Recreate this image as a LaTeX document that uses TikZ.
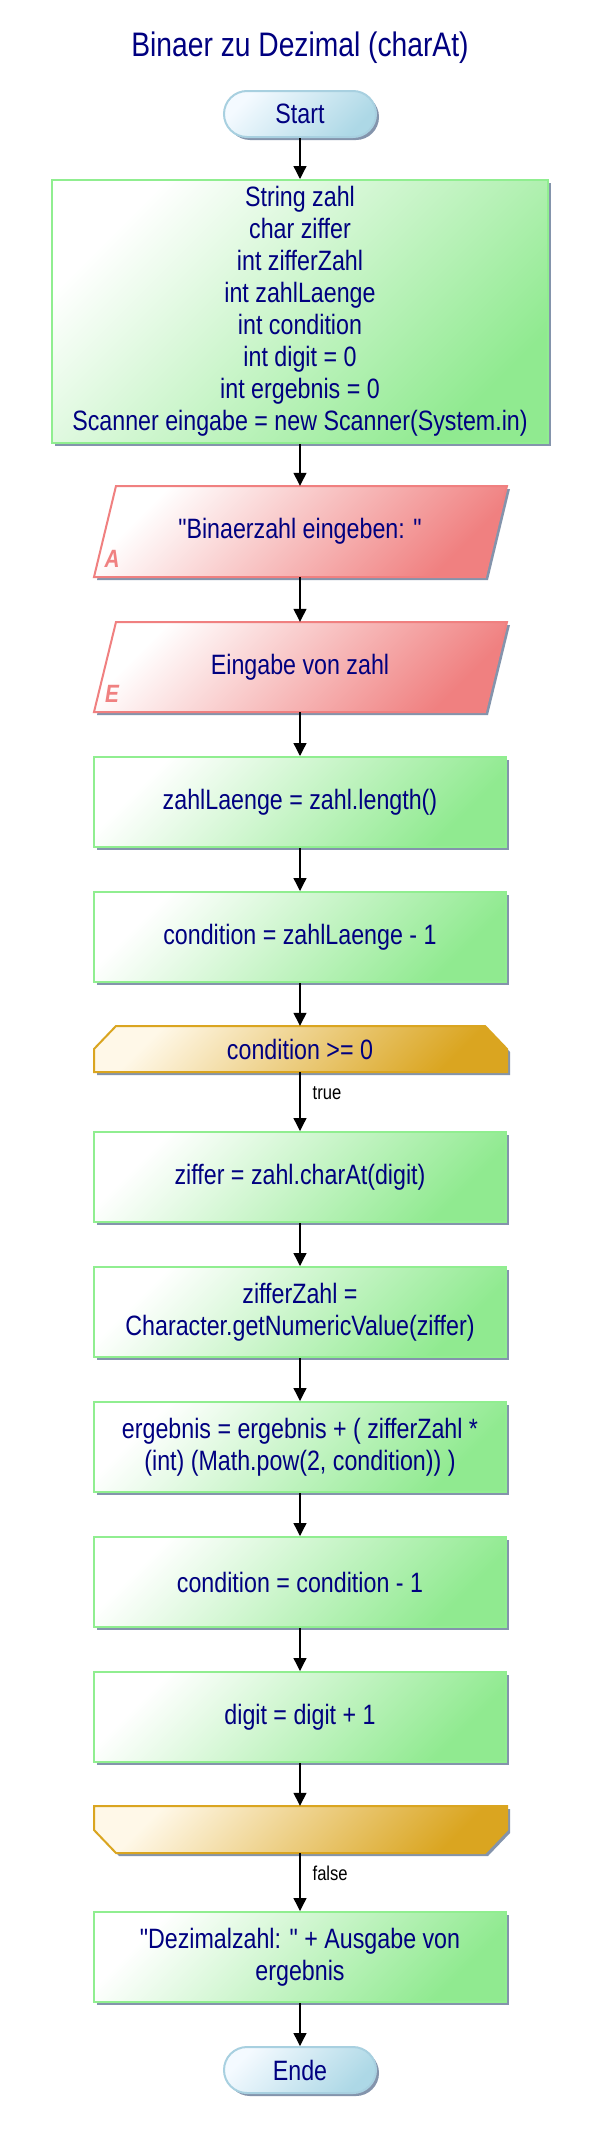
\documentclass[tikz,border=0pt]{standalone}
\usepackage{fontspec}
\setmainfont{Liberation Sans}[FakeStretch=0.83, Ligatures=TeXOff]
\usetikzlibrary{arrows.meta,calc}
\definecolor{navytxt}{HTML}{000080}
\definecolor{greenbd}{HTML}{90EE90}
\definecolor{greenend}{HTML}{90EA90}
\definecolor{greenmid}{HTML}{C4F5C4}
\definecolor{redbd}{HTML}{F08080}
\definecolor{redmid}{HTML}{F6B8B8}
\definecolor{goldbd}{HTML}{DAA520}
\definecolor{goldmid}{HTML}{EDCF8A}
\definecolor{goldstart}{HTML}{FFF8E8}
\definecolor{bluebd}{HTML}{A8D0E0}
\definecolor{blueend}{HTML}{ADD8E6}
\definecolor{bluemid}{HTML}{D2EAF2}
\definecolor{bluestart}{HTML}{F4FAFF}
\definecolor{shadowcol}{HTML}{8494AC}
\tikzset{
  shad/.style={preaction={fill=shadowcol, transform canvas={shift={(3pt,-3pt)}}}},
  txt/.style={text=navytxt, font=\fontsize{28}{32}\selectfont, align=center},
  procbox/.style={txt, shad, rectangle, draw=greenbd, line width=2pt, top color=white, middle color=greenmid, bottom color=greenend, shading angle=45, minimum width=412pt, minimum height=90pt, inner sep=0pt},
  termbox/.style={txt, shad, rectangle, rounded corners=23pt, draw=bluebd, line width=2pt, top color=bluestart, middle color=bluemid, bottom color=blueend, shading angle=45, minimum width=152pt, minimum height=46pt, inner sep=0pt},
  redshape/.style={shad, draw=redbd, line width=2pt, top color=white, middle color=redmid, bottom color=redbd, shading angle=45},
  goldshape/.style={shad, draw=goldbd, line width=2pt, top color=goldstart, middle color=goldmid, bottom color=goldbd, shading angle=45},
  holder/.style={txt, rectangle, minimum width=412pt, inner sep=0pt},
  ioletter/.style={text=redbd, font=\fontsize{25}{25}\selectfont\bfseries\itshape},
  arr/.style={-{Triangle[width=13pt,length=13pt]}, line width=1.3pt, black},
  lbl/.style={anchor=west, font=\fontsize{20}{20}\selectfont, text=black, inner sep=0pt, xshift=12pt}
}
\begin{document}
\begin{tikzpicture}[x=1pt,y=1pt]
\useasboundingbox (0,0) rectangle (600,-2136);
\fill[white] (0,0) rectangle (600,-2136);

\node[text=navytxt, font=\fontsize{34}{34}\selectfont] (title) at (300,-48) {Binaer zu Dezimal (charAt)};

\node[termbox] (start) at (300,-114) {Start};

\node[procbox, minimum width=496pt, minimum height=263pt] (decl) at (300,-311.5) {String zahl\\char ziffer\\int zifferZahl\\int zahlLaenge\\int condition\\int digit = 0\\int ergebnis = 0\\Scanner eingabe = new Scanner(System.in)};

% output parallelogram
\path[redshape] (116,-486) -- (507,-486) -- (485,-577) -- (94,-577) -- cycle;
\node[holder, minimum height=91pt] (out1) at (300,-531.5) {"Binaerzahl eingeben: "};
\node[ioletter] (la) at (112,-559) {A};

% input parallelogram
\path[redshape] (116,-622) -- (507,-622) -- (485,-712) -- (94,-712) -- cycle;
\node[holder, minimum height=90pt] (in1) at (300,-667) {Eingabe von zahl};
\node[ioletter] (le) at (112,-694) {E};

\node[procbox] (len) at (300,-802) {zahlLaenge = zahl.length()};
\node[procbox] (cond) at (300,-937) {condition = zahlLaenge - 1};

% loop head
\path[goldshape] (94,-1049) -- (116,-1026) -- (485,-1026) -- (507,-1049) -- (507,-1072) -- (94,-1072) -- cycle;
\node[holder, minimum height=46pt] (loop) at (300,-1049) {condition >= 0};

\node[procbox] (zif) at (300,-1177) {ziffer = zahl.charAt(digit)};
\node[procbox] (zz) at (300,-1312) {zifferZahl =\\Character.getNumericValue(ziffer)};
\node[procbox] (erg) at (300,-1447) {ergebnis = ergebnis + ( zifferZahl *\\(int) (Math.pow(2, condition)) )};
\node[procbox] (cm) at (300,-1582) {condition = condition - 1};
\node[procbox] (dig) at (300,-1717) {digit = digit + 1};

% loop end
\path[goldshape] (94,-1806) -- (507,-1806) -- (507,-1830) -- (485,-1853) -- (116,-1853) -- (94,-1830) -- cycle;
\node[holder, minimum height=47pt] (lend) at (300,-1829.5) {};

\node[procbox] (res) at (300,-1957) {"Dezimalzahl: " + Ausgabe von\\ergebnis};
\node[termbox] (ende) at (300,-2070) {Ende};

\draw[arr] (start) -- (decl);
\draw[arr] (decl) -- (out1);
\draw[arr] (out1) -- (in1);
\draw[arr] (in1) -- (len);
\draw[arr] (len) -- (cond);
\draw[arr] (cond) -- (loop);
\draw[arr] (loop) -- node[lbl, pos=0.36] {true} (zif);
\draw[arr] (zif) -- (zz);
\draw[arr] (zz) -- (erg);
\draw[arr] (erg) -- (cm);
\draw[arr] (cm) -- (dig);
\draw[arr] (dig) -- (lend);
\draw[arr] (lend) -- node[lbl, pos=0.34] {false} (res);
\draw[arr] (res) -- (ende);
\end{tikzpicture}
\end{document}
